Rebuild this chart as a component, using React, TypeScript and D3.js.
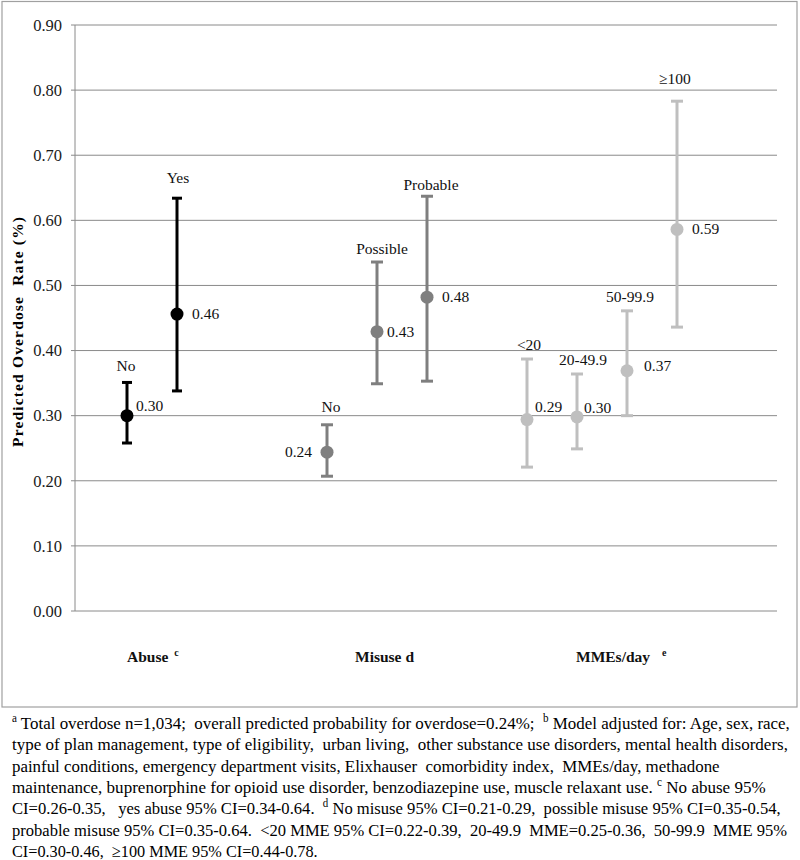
import { useLayoutEffect, useRef, useState } from "react";
import * as d3 from "d3";

// categories and series values
const groupNames = ["Abuse", "Misuse d", "MMEs/day"];
const groupSup = ["c", "", "e"];
const levels = ["No", "Yes", "No", "Possible", "Probable", "<20", "20-49.9", "50-99.9", "\u2265100"];
const levelGroup = [0, 0, 1, 1, 1, 2, 2, 2, 2];
const levelSlot = [0, 1, 4, 5, 6, 8, 9, 10, 11];
const estimate = [0.3, 0.456, 0.244, 0.429, 0.482, 0.294, 0.298, 0.369, 0.586];
const ciLow = [0.258, 0.338, 0.207, 0.349, 0.353, 0.221, 0.249, 0.3, 0.436];
const ciHigh = [0.351, 0.634, 0.286, 0.536, 0.637, 0.387, 0.364, 0.461, 0.783];
const yTicks = [0, 0.1, 0.2, 0.3, 0.4, 0.5, 0.6, 0.7, 0.8, 0.9];

const footnotes = [
  "^a Total overdose n=1,034;  overall predicted probability for overdose=0.24%;  ^b Model adjusted for: Age, sex, race,",
  "type of plan management, type of eligibility,  urban living,  other substance use disorders, mental health disorders,",
  "painful conditions, emergency department visits, Elixhauser  comorbidity index,  MMEs/day, methadone",
  "maintenance, buprenorphine for opioid use disorder, benzodiazepine use, muscle relaxant use. ^c No abuse 95%",
  "CI=0.26-0.35,   yes abuse 95% CI=0.34-0.64.  ^d No misuse 95% CI=0.21-0.29,  possible misuse 95% CI=0.35-0.54,",
  "probable misuse 95% CI=0.35-0.64.  <20 MME 95% CI=0.22-0.39,  20-49.9  MME=0.25-0.36,  50-99.9  MME 95%",
  "CI=0.30-0.46,  \u2265100 MME 95% CI=0.44-0.78.",
];

// layout (not data)
const groupColor = ["#000000", "#7f7f7f", "#bfbfbf"];
const groupLabelAt = [0, 4.56, 8.98];
const valueOffset: [number, number, string][] = [
  [9, -5, "start"], [15, 5, "start"], [-15, 5, "end"], [10, 5, "start"], [15, 5, "start"],
  [8, -8, "start"], [7, -4, "start"], [17, 0, "start"], [15, 5, "start"],
];
const nameOffset: [number, number][] = [
  [-1, 11], [1, 15], [4, 13], [5, 8], [4, 6], [2, 9], [6, 9], [3, 9], [-2, 17],
];
const footWidths = [778, 776, 708, 754, 769, 776, 306];
const serif = "'Liberation Serif', 'Times New Roman', serif";

export default function App() {
  const W = 800;
  const H = 860;
  const x = d3.scaleLinear().domain([-1, 13]).range([77, 777]);
  const y = d3.scaleLinear().domain([0, 0.9]).range([611, 25]);
  const fmt = d3.format(".2f");
  const left = 75;
  const right = 777;

  const footRef = useRef<SVGGElement>(null);
  const [scales, setScales] = useState<number[]>(footnotes.map(() => 1));

  // squeeze each footnote line to the width it has in the figure
  useLayoutEffect(() => {
    if (!footRef.current) return;
    const nodes = footRef.current.querySelectorAll("text");
    const k = Array.from(nodes).map((n, i) => {
      const w = (n as SVGTextElement).getBBox().width;
      return w > 0 ? footWidths[i] / w : 1;
    });
    setScales(k);
  }, []);

  return (
    <svg width={W} height={H} style={{ position: "absolute", left: 0, top: 0, background: "#fff", fontFamily: serif }}>
      <rect x={0} y={0} width={W} height={H} fill="#fff" />
      <rect x={2} y={1.5} width={795} height={705.5} fill="none" stroke="#a0a0a0" strokeWidth={1.2} />

      {/* grid + y axis */}
      {yTicks.map((t) => (
        <g key={t}>
          <line x1={left - 4} x2={right} y1={y(t)} y2={y(t)} stroke="#8a8a8a" strokeWidth={1} />
          <text x={62} y={y(t)} dy="0.35em" textAnchor="end" fontSize={16.5} fill="#1a1a1a">
            {fmt(t)}
          </text>
        </g>
      ))}
      <line x1={left} x2={left} y1={y(0.9)} y2={y(0)} stroke="#8a8a8a" strokeWidth={1} />

      <text
        transform={`translate(18,332) rotate(-90)`}
        textAnchor="middle"
        dy="0.35em"
        fontSize={15.5}
        fontWeight="bold"
        textLength={230}
        lengthAdjust="spacing"
        style={{ whiteSpace: "pre" }}
      >
        Predicted Overdose  Rate (%)
      </text>

      {/* error bars */}
      {levels.map((lv, i) => {
        const cx = x(levelSlot[i]);
        const c = groupColor[levelGroup[i]];
        const cap = levelGroup[i] === 0 ? 5 : 6;
        const [dx, dy, anchor] = valueOffset[i];
        const [nx, ny] = nameOffset[i];
        return (
          <g key={i}>
            <line x1={cx} x2={cx} y1={y(ciLow[i])} y2={y(ciHigh[i])} stroke={c} strokeWidth={3} />
            <line x1={cx - cap} x2={cx + cap} y1={y(ciLow[i])} y2={y(ciLow[i])} stroke={c} strokeWidth={3} />
            <line x1={cx - cap} x2={cx + cap} y1={y(ciHigh[i])} y2={y(ciHigh[i])} stroke={c} strokeWidth={3} />
            <circle cx={cx} cy={y(estimate[i])} r={6.5} fill={c} />
            <text x={cx + dx} y={y(estimate[i]) + dy} textAnchor={anchor} fontSize={15.5} fill="#111">
              {fmt(estimate[i])}
            </text>
            <text x={cx + nx} y={y(ciHigh[i]) - ny} textAnchor="middle" fontSize={15.5} fill="#111">
              {lv}
            </text>
          </g>
        );
      })}

      {/* group labels */}
      {groupNames.map((g, i) => (
        <text key={g} x={x(groupLabelAt[i])} y={662} fontSize={15.5} fontWeight="bold" fill="#111">
          {g}
          {groupSup[i] && (
            <tspan fontSize={10} dx={i === 2 ? 12 : 6} dy={-6}>
              {groupSup[i]}
            </tspan>
          )}
        </text>
      ))}

      {/* footnote */}
      <g ref={footRef}>
        {footnotes.map((f, i) => {
          const parts = f.split(/\^(\w)/);
          return (
            <text
              key={i}
              transform={`translate(12,${729 + i * 21.33}) scale(${scales[i]},1)`}
              fontSize={17.5}
              fill="#000"
              style={{ whiteSpace: "pre" }}
            >
              {parts.map((p, j) =>
                j % 2 === 1 ? (
                  <tspan key={j} fontSize={11.5} dy={-7}>{p}</tspan>
                ) : p.length ? (
                  <tspan key={j} dy={j > 0 ? 7 : 0}>{p}</tspan>
                ) : null
              )}
            </text>
          );
        })}
      </g>
    </svg>
  );
}
